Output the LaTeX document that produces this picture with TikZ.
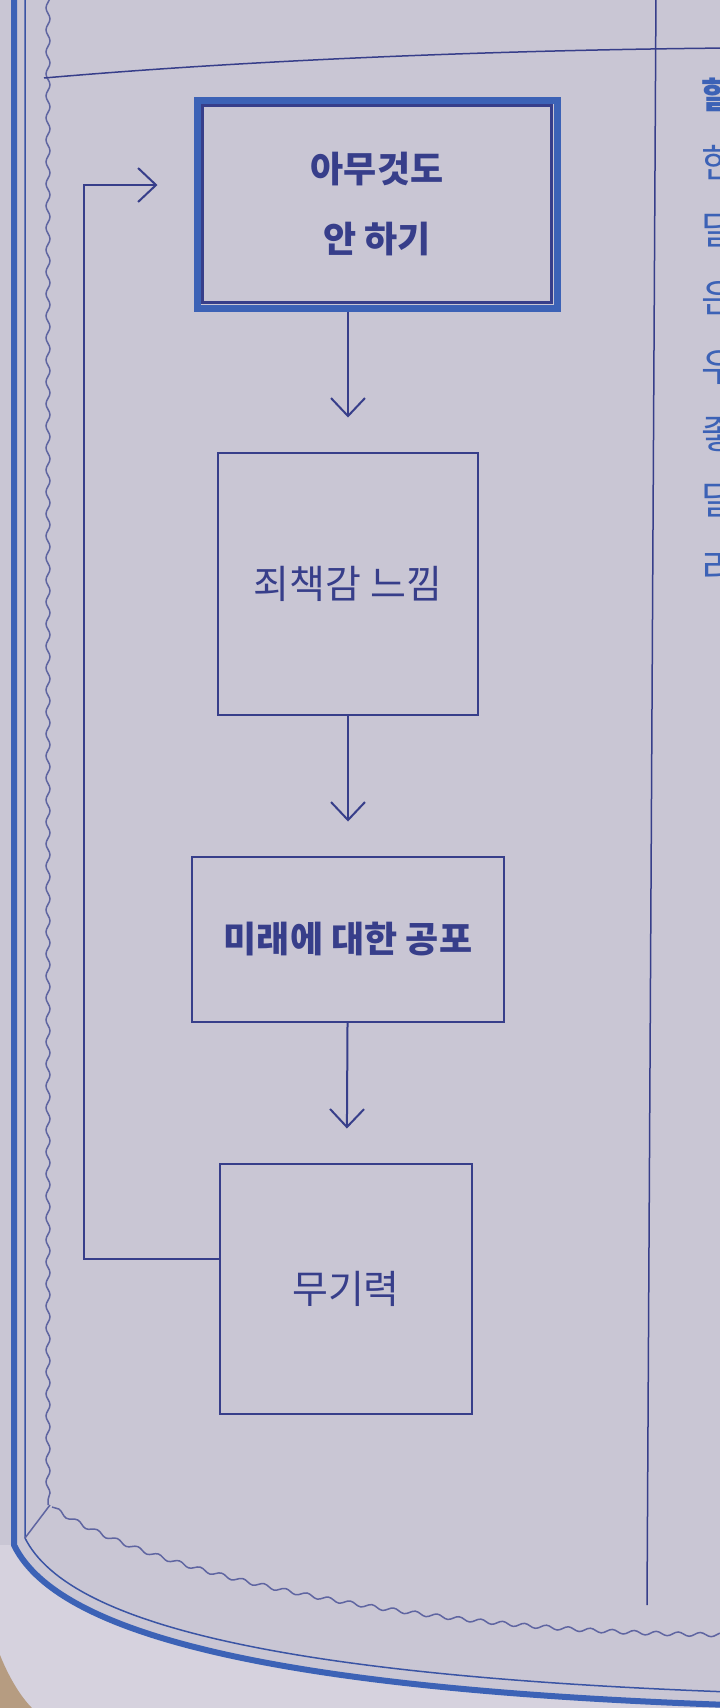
\documentclass[tikz,border=0pt]{standalone}
\usepackage{fontspec}
\newfontfamily\kr{Noto Sans CJK KR}
\usetikzlibrary{arrows.meta,positioning,decorations.pathmorphing}
\definecolor{paper}{RGB}{201,198,212}
\definecolor{lightpaper}{RGB}{214,210,222}
\definecolor{ink}{RGB}{55,62,138}
\definecolor{rule}{RGB}{60,98,182}

\begin{document}
\begin{tikzpicture}[x=1pt,y=-1pt,>={Straight Barb[length=18pt,width=34pt]},
                    node distance=140pt,color=ink]
  \tikzstyle{every node}=[font=\kr\fontsize{39}{50}\selectfont,text=ink]
  \tikzstyle{place}=[rectangle,draw=ink,line width=2pt,inner sep=0pt,align=center]
  \tikzstyle{strong}=[font=\kr\bfseries\fontsize{36}{46}\selectfont]
  \tikzstyle{first}=[place,strong,draw=rule,line width=7pt]
  \tikzstyle{flow}=[->,draw=ink,line width=2pt,shorten >=34pt]
  \tikzstyle{wave}=[draw=ink!80,line width=1.5pt,decorate,
                    decoration={snake,segment length=22pt,amplitude=2pt}]

  \useasboundingbox (0,0) rectangle (720,1708);
  \clip (0,0) rectangle (720,1708);
  \fill[paper] (0,0) rectangle (720,1708);

  % page frame
  \fill[lightpaper] (0,1545) -- (14,1545)
    .. controls (60,1640) and (300,1690) .. (730,1705) -- (730,1708) -- (0,1708) -- cycle;
  \fill[brown!70!black!60] (0,1655) .. controls (10,1680) and (22,1698) .. (32,1708)
    -- (0,1708) -- cycle;
  \draw[rule,line width=6pt] (14,-10) -- (14,1545)
    .. controls (60,1640) and (300,1690) .. (730,1705);
  \draw[rule!60!ink,line width=1.5pt] (25,-10) -- (25,1538)
    .. controls (70,1628) and (300,1676) .. (730,1692);
  \draw[wave] (48,-10) -- (48,1505);
  \draw[ink!80,line width=1.5pt] (50,1505) -- (25,1538);
  \draw[wave] (52,1507) .. controls (150,1570) and (400,1630) .. (730,1632);
  \draw[ink,line width=1.5pt] (44,78) .. controls (250,60) and (500,50) .. (730,48);
  \draw[ink,line width=1.5pt] (656,-10) -- (647,1605);

  \node[anchor=west,text=rule,strong] (r0) at (698,95) {할};
  \node[anchor=west,text=rule] (r1) at (698,163) {한};
  \node[anchor=west,text=rule] (r2) at (698,230) {달};
  \node[anchor=west,text=rule] (r3) at (698,298) {은};
  \node[anchor=west,text=rule] (r4) at (698,368) {우};
  \node[anchor=west,text=rule] (r5) at (698,435) {좋};
  \node[anchor=west,text=rule] (r6) at (698,500) {달};
  \node[anchor=west,text=rule] (r7) at (698,568) {리};

  % flow chart
  \node[first,minimum width=360pt,minimum height=208pt] (0) at (377,204)
    {아무것도\\[24pt]안 하기};
  \draw[ink,line width=2.5pt] ([shift={(9pt,-9pt)}]0.north west)
    rectangle ([shift={(-9pt,9pt)}]0.south east);
  \node[place,minimum width=260pt,minimum height=262pt] (1)
    [below=of 0,xshift=-29pt] {죄책감 느낌};
  \node[place,strong,minimum width=312pt,minimum height=165pt] (2)
    [below=of 1] {미래에 대한 공포};
  \node[place,minimum width=252pt,minimum height=250pt] (3)
    [below=of 2,xshift=-2pt] {무기력};

  \coordinate (back) at (84,0);

  \path (0.south -| 1) edge[flow] (1)
        (1) edge[flow] (2)
        (2) edge[flow] (3);
  \draw[flow,shorten >=36pt] ([yshift=30pt]3.west) -- ([yshift=30pt]3.west -| back)
    -- ([yshift=19pt]0.west -| back) -- ([yshift=19pt]0.west);

\end{tikzpicture}
\end{document}
